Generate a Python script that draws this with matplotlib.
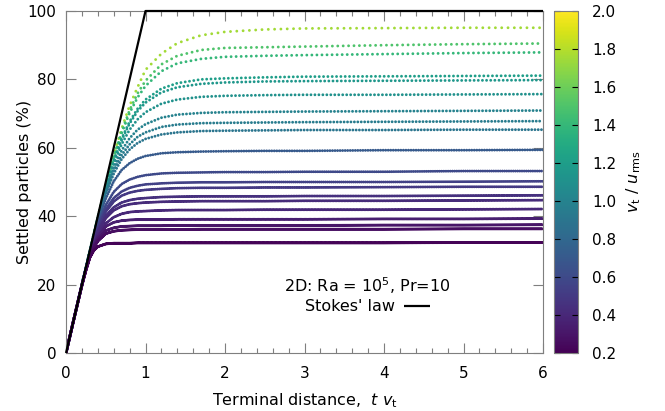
import matplotlib
matplotlib.use("Agg")
import matplotlib.pyplot as plt
import numpy as np

plt.rcParams['font.family'] = ['DejaVu Sans']
plt.rcParams['lines.scale_dashes'] = False

# Terminal distance grid (t v_t) at which values were read
dist = [0, 0.1, 0.2, 0.25, 0.3, 0.35, 0.4, 0.5, 0.6, 0.7, 0.8, 0.9, 1.0,
        1.2, 1.4, 1.7, 2.0, 2.5, 3.0, 4.0, 5.0, 6.0]

# v_t / u_rms of each curve
vt_ratio = [1.75, 1.5, 1.4, 1.2, 1.15, 1.1, 1.0, 0.95, 0.9, 0.7,
            0.6, 0.55, 0.5, 0.45, 0.42, 0.4, 0.35, 0.3, 0.27, 0.22]

# Settled particles (%) for each curve
settled = [
    [0, 10.0, 20.0, 25.0, 29.9, 34.9, 39.6, 49.1, 57.8, 65.6, 72.3, 77.7, 82.8, 87.5, 90.6, 92.9, 93.9, 94.6, 94.9, 95.0, 95.1, 95.1],
    [0, 10.0, 20.0, 25.0, 29.9, 34.9, 39.6, 48.9, 57.4, 64.8, 71.0, 75.9, 79.6, 84.4, 86.9, 88.6, 89.2, 89.4, 89.6, 90.0, 90.3, 90.5],
    [0, 10.0, 20.0, 25.0, 29.9, 34.8, 39.6, 48.8, 57.1, 64.3, 70.2, 74.7, 78.1, 82.4, 84.7, 86.0, 86.6, 86.9, 87.1, 87.4, 87.7, 87.9],
    [0, 10.0, 20.0, 24.9, 29.9, 34.7, 39.4, 48.3, 56.2, 62.7, 67.7, 71.4, 74.1, 77.3, 78.9, 80.0, 80.3, 80.6, 80.8, 80.9, 81.0, 81.1],
    [0, 10.0, 20.0, 24.9, 29.9, 34.7, 39.4, 48.2, 56.0, 62.3, 67.1, 70.7, 73.2, 76.2, 77.7, 78.7, 79.1, 79.4, 79.5, 79.6, 79.7, 79.8],
    [0, 10.0, 20.0, 24.9, 29.8, 34.6, 39.3, 47.9, 55.2, 61.0, 65.3, 68.3, 70.4, 72.9, 74.1, 74.9, 75.2, 75.4, 75.5, 75.5, 75.6, 75.7],
    [0, 10.0, 20.0, 24.9, 29.8, 34.5, 39.0, 47.3, 54.1, 59.2, 62.8, 65.3, 66.9, 68.8, 69.7, 70.2, 70.4, 70.5, 70.6, 70.7, 70.8, 70.9],
    [0, 10.0, 20.0, 24.9, 29.7, 34.4, 38.9, 46.8, 53.2, 57.9, 61.0, 63.2, 64.5, 66.1, 66.8, 67.2, 67.3, 67.4, 67.5, 67.6, 67.7, 67.8],
    [0, 10.0, 20.0, 24.9, 29.7, 34.3, 38.7, 46.4, 52.4, 56.7, 59.5, 61.4, 62.6, 63.9, 64.5, 64.9, 65.0, 65.1, 65.2, 65.2, 65.3, 65.3],
    [0, 10.0, 20.0, 24.8, 29.5, 34.0, 38.2, 45.1, 50.2, 53.5, 55.5, 56.8, 57.6, 58.4, 58.7, 58.9, 59.0, 59.1, 59.1, 59.3, 59.3, 59.4],
    [0, 10.0, 19.9, 24.7, 29.3, 33.5, 37.3, 43.2, 47.1, 49.4, 50.7, 51.5, 52.0, 52.5, 52.7, 52.8, 52.9, 52.9, 53.0, 53.0, 53.2, 53.2],
    [0, 10.0, 19.9, 24.6, 29.1, 33.2, 36.7, 42.0, 45.3, 47.2, 48.3, 48.9, 49.3, 49.6, 49.8, 49.9, 49.9, 50.0, 50.0, 50.0, 50.1, 50.2],
    [0, 10.0, 19.9, 24.6, 29.0, 32.9, 36.3, 41.3, 44.3, 46.0, 46.9, 47.4, 47.7, 48.0, 48.2, 48.3, 48.3, 48.4, 48.4, 48.5, 48.6, 48.6],
    [0, 10.0, 19.8, 24.5, 28.8, 32.5, 35.7, 40.1, 42.6, 44.0, 44.7, 45.1, 45.3, 45.6, 45.7, 45.8, 45.8, 45.8, 45.9, 45.9, 46.0, 46.1],
    [0, 10.0, 19.8, 24.4, 28.6, 32.3, 35.3, 39.4, 41.7, 42.9, 43.5, 43.8, 44.0, 44.2, 44.3, 44.4, 44.4, 44.4, 44.5, 44.5, 44.6, 44.7],
    [0, 10.0, 19.8, 24.3, 28.3, 31.7, 34.4, 37.9, 39.7, 40.7, 41.2, 41.4, 41.5, 41.7, 41.8, 41.8, 41.8, 41.9, 41.9, 41.9, 42.0, 42.1],
    [0, 10.0, 19.8, 24.3, 28.2, 31.5, 34.0, 37.0, 38.2, 38.7, 38.9, 39.0, 39.0, 39.0, 39.1, 39.1, 39.1, 39.1, 39.1, 39.2, 39.2, 39.3],
    [0, 10.0, 19.8, 24.3, 28.1, 31.1, 33.3, 35.8, 36.6, 37.0, 37.1, 37.2, 37.2, 37.2, 37.3, 37.3, 37.3, 37.3, 37.3, 37.4, 37.4, 37.5],
    [0, 10.0, 19.8, 24.2, 28.0, 30.8, 32.7, 34.9, 35.6, 35.9, 36.0, 36.1, 36.1, 36.1, 36.1, 36.2, 36.2, 36.2, 36.2, 36.2, 36.3, 36.3],
    [0, 10.0, 19.8, 24.1, 27.9, 30.0, 31.1, 31.9, 32.1, 32.1, 32.1, 32.2, 32.2, 32.2, 32.2, 32.2, 32.2, 32.2, 32.2, 32.2, 32.3, 32.3],
]

# Stokes' law line
stokes_x = [0, 1, 6]
stokes_y = [0, 100, 100]

x_ticks = [0, 1, 2, 3, 4, 5, 6]
y_ticks = [0, 20, 40, 60, 80, 100]
cb_ticks = [0.2, 0.4, 0.6, 0.8, 1.0, 1.2, 1.4, 1.6, 1.8, 2.0]

W, H = 665, 411
fig = plt.figure(figsize=(W / 100, H / 100), dpi=100)
ax = fig.add_axes([66 / W, (H - 353) / H, (543 - 66) / W, (353 - 11) / H])
cax = fig.add_axes([554 / W, (H - 353) / H, (578 - 554) / W, (353 - 11) / H])

cmap = plt.get_cmap('viridis')
norm = matplotlib.colors.Normalize(vmin=0.2, vmax=2.0)

for v, ys in zip(vt_ratio, settled):
    gap = 2.59 * v  # points between consecutive samples
    ax.plot(dist, ys, color=cmap(norm(v)), lw=2.1,
            linestyle=(0, (0.01, gap)), dash_capstyle='round', zorder=2)

ax.plot(stokes_x, stokes_y, color='black', lw=1.6, clip_on=False, zorder=5,
        label="Stokes' law", solid_capstyle='butt')

ax.set_xlim(0, 6)
ax.set_ylim(0, 100)
ax.set_xticks(x_ticks)
ax.set_yticks(y_ticks)
ax.set_xticks(np.arange(0, 6.01, 0.2), minor=True)
gray = '#7f7f7f'
for s in ax.spines.values():
    s.set_color(gray)
    s.set_linewidth(0.8)
ax.tick_params(which='both', direction='in', color=gray, top=True, right=True,
               labelsize=11, width=0.8)
ax.tick_params(which='major', length=7)
ax.tick_params(axis='x', which='major', pad=9)
ax.tick_params(axis='y', which='major', pad=7)
ax.tick_params(which='minor', length=3.5)
ax.tick_params(axis='y', which='minor', left=False, right=False)

ax.set_xlabel('Terminal distance,  $t\\ v_\\mathrm{t}$', fontsize=11.5, labelpad=8)
ax.set_ylabel('Settled particles (%)', fontsize=11.5, labelpad=-3)

leg = ax.legend(title='2D: Ra = 10$^5$, Pr=10', markerfirst=False, frameon=False,
                loc='center', bbox_to_anchor=(0.632, 0.17), fontsize=11.5,
                title_fontsize=11.5, handlelength=1.6, handletextpad=0.6,
                borderpad=0.2, labelspacing=0.2)

sm = matplotlib.cm.ScalarMappable(norm=norm, cmap=cmap)
cb = fig.colorbar(sm, cax=cax, ticks=cb_ticks)
cb.outline.set_edgecolor(gray)
cb.outline.set_linewidth(0.8)
cax.tick_params(direction='in', length=4, width=0.8, color='black', left=True,
                right=True, labelsize=11, pad=10)
cax.set_yticklabels([f'{t:.1f}' for t in cb_ticks])
cb.set_label('$v_\\mathrm{t}$ / $u_\\mathrm{rms}$', fontsize=11.5, labelpad=6)

fig.savefig('out.png', dpi=100)
